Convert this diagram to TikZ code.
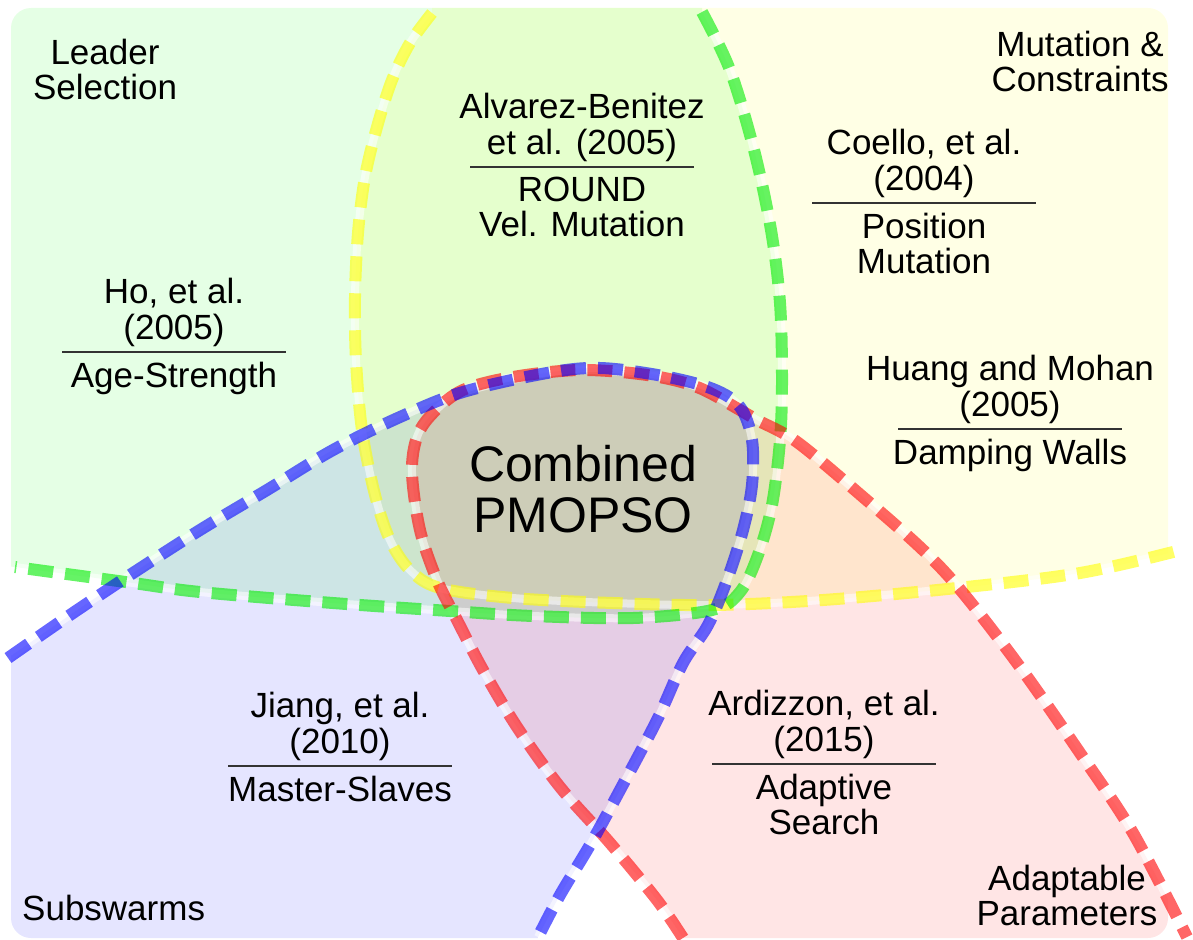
\documentclass[tikz,border=0pt]{standalone}
\usepackage{fontspec}
\setmainfont{Liberation Sans}
\definecolor{fG}{RGB}{229,255,229}
\definecolor{fY}{RGB}{255,255,229}
\definecolor{fB}{RGB}{229,229,255}
\definecolor{fR}{RGB}{255,229,229}
\definecolor{cY}{RGB}{255,255,0}
\definecolor{cB}{RGB}{0,0,255}
\definecolor{cR}{RGB}{255,0,0}
\definecolor{dG}{RGB}{0,235,0}
\newcommand\refentry[5]{%
  \node[lbl, font=\fontsize{35}{36}\selectfont, anchor=south] (#1-t) at ({#2},{#3-5}) {#4};
  \node[lbl, anchor=north] (#1-b) at ({#2},{#3+10}) {#5};
  \coordinate (#1-l) at ({#2-112},{#3});
  \coordinate (#1-r) at ({#2+112},{#3});
  \draw[rulestyle] (#1-l) -- (#1-r);}
\def\greenpath{plot[smooth,tension=0.55] coordinates {(702,12) (730,70) (754,150) (771,230) (780,303) (782,380) (780,440) (772,505) (758,555) (740,592) (712,610) (633,618) (533,616) (450,611) (333,603) (200,592) (133,583) (15,567)}}
\def\yellowpath{plot[smooth,tension=0.55] coordinates {(432,13) (410,43) (392,80) (377,127) (365,177) (358,233) (355,297) (356,360) (362,430) (375,495) (390,540) (410,570) (440,588) (513,598) (613,603) (713,605) (823,600) (957,588) (1080,573) (1177,551)}}
\def\bluepath{plot[smooth,tension=0.55] coordinates {(8,658) (70,615) (133,573) (200,530) (267,490) (333,450) (400,417) (463,392) (547,373) (600,368) (663,376) (713,389) (740,407) (752,440) (752,485) (743,530) (727,580) (708,625) (683,663) (657,720) (620,790) (590,845) (560,895) (538,937)}}
\def\redpath{plot[smooth,tension=0.55] coordinates {(683,938) (657,900) (610,843) (560,787) (517,727) (483,670) (457,620) (437,580) (420,530) (412,473) (417,437) (433,413) (463,390) (513,377) (580,370) (647,375) (697,387) (740,410) (757,420) (797,442) (863,497) (923,550) (963,593) (1020,667) (1080,753) (1133,833) (1187,937)}}
\begin{document}
\begin{tikzpicture}[x=1pt,y=-1pt,
  regfill/.style={fill=#1},
  halo/.style={draw=white, draw opacity=0.55, line width=8pt},
  dashline/.style={draw=#1, draw opacity=0.6, line width=12pt, dash pattern=on 25pt off 12pt},
  lbl/.style={font=\fontsize{35}{35}\selectfont, align=center, inner sep=0pt, text=black},
  rulestyle/.style={line width=1.3pt, draw=black!80}]
\useasboundingbox (0,0) rectangle (1193,939);
% region fills
\begin{scope}[blend mode=multiply]
  \clip[rounded corners=20pt] (11,8) rectangle (1168,938);
  \fill[regfill=fG] \greenpath -- (-50,560) -- (-50,-50) -- (702,-50) -- cycle;
  \fill[regfill=fY] \yellowpath -- (1250,540) -- (1250,-50) -- (432,-50) -- cycle;
  \fill[regfill=fB] \bluepath -- (530,1000) -- (-50,1000) -- (-50,665) -- cycle;
  \fill[regfill=fR] \redpath -- (1250,1000) -- (690,1000) -- cycle;
\end{scope}
% halos
\draw[halo] \yellowpath;
\draw[halo] \greenpath;
\draw[halo] \redpath;
\draw[halo] \bluepath;
% dashed borders
\draw[dashline=cY] \yellowpath;
\draw[dashline=dG] \greenpath;
\draw[dashline=cR] \redpath;
\draw[dashline=cB] \bluepath;
% region labels
\node[lbl, anchor=north] (leader) at (105,39) {Leader\\Selection};
\node[lbl, anchor=north] (mutc) at (1080,31) {Mutation \&\\Constraints};
\node[lbl, anchor=base west] (subs) at (22,920) {Subswarms};
\node[lbl, anchor=north] (adapt) at (1067,865) {Adaptable\\Parameters};
\node[lbl, font=\fontsize{50}{51}\selectfont, anchor=north] (comb) at (583,445) {Combined\\PMOPSO};
% references
\refentry{ho}{174}{352}{Ho, et al.\\(2005)}{Age-Strength}
\refentry{alv}{582}{167}{Alvarez-Benitez\\et al. (2005)}{ROUND\\Vel. Mutation}
\refentry{coe}{924}{203}{Coello, et al.\\(2004)}{Position\\Mutation}
\refentry{hua}{1010}{429}{Huang and Mohan\\(2005)}{Damping Walls}
\refentry{jia}{340}{766}{Jiang, et al.\\(2010)}{Master-Slaves}
\refentry{ard}{824}{764}{Ardizzon, et al.\\(2015)}{Adaptive\\Search}
\end{tikzpicture}
\end{document}
